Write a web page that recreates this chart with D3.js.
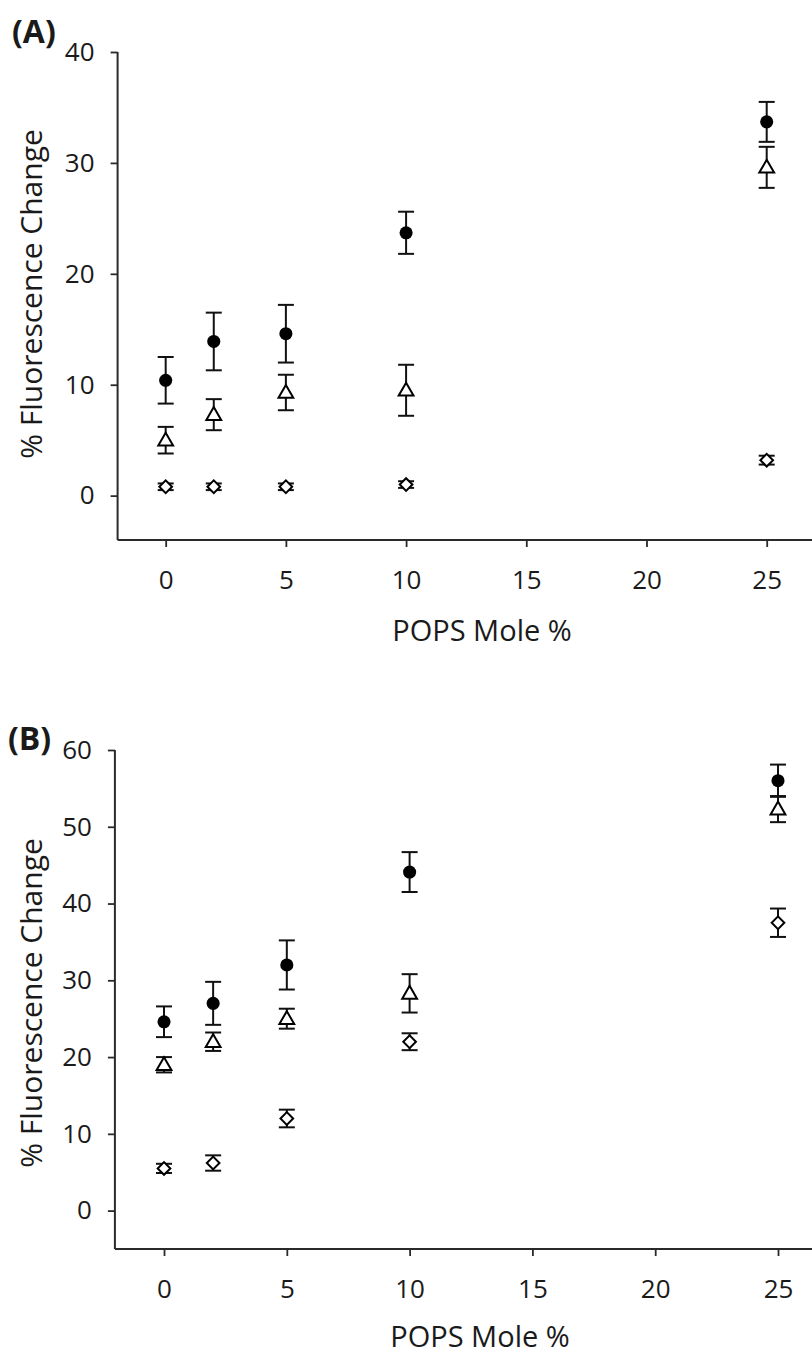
<!DOCTYPE html>
<html>
<head>
<meta charset="utf-8">
<script src="https://cdn.jsdelivr.net/npm/d3@7"></script>
<style>
  html, body { margin: 0; padding: 0; background: #fff; }
  svg { display: block; }
  text { font-family: "Open Sans", "Noto Sans", sans-serif; fill: #1a1a1a; }
</style>
</head>
<body>
<svg id="chart" width="812" height="1359"></svg>
<script>
// ---- Data ----
const xValues = [0, 2, 5, 10, 25];
const xTicks = [0, 5, 10, 15, 20, 25];

// Panel A
const aCircle      = [10.4, 13.9, 14.6, 23.7, 33.7];
const aCircleErr   = [2.1, 2.6, 2.6, 1.9, 1.8];
const aTriangle    = [5.0, 7.3, 9.3, 9.5, 29.6];
const aTriangleErr = [1.2, 1.4, 1.6, 2.3, 1.85];
const aDiamond     = [0.8, 0.8, 0.8, 1.0, 3.2];
const aDiamondErr  = [0.3, 0.3, 0.3, 0.3, 0.4];
const aYTicks = [0, 10, 20, 30, 40];

// Panel B
const bCircle      = [24.6, 27.0, 32.0, 44.1, 56.0];
const bCircleErr   = [2.0, 2.8, 3.2, 2.6, 2.1];
const bTriangle    = [19.0, 22.0, 25.0, 28.3, 52.3];
const bTriangleErr = [1.0, 1.2, 1.3, 2.5, 1.7];
const bDiamond     = [5.5, 6.2, 12.0, 22.0, 37.5];
const bDiamondErr  = [0.6, 1.0, 1.15, 1.1, 1.85];
const bYTicks = [0, 10, 20, 30, 40, 50, 60];

const xTitle = "POPS Mole %";
const yTitle = "% Fluorescence Change";

const svg = d3.select("#chart");

function series(vals, errs, shape) {
  return xValues.map((x, i) => ({ x, y: vals[i], e: errs[i], shape }));
}

function drawPanel(cfg) {
  const g = svg.append("g");
  const x = d3.scaleLinear().domain(cfg.xDomain).range(cfg.xRange);
  const y = d3.scaleLinear().domain(cfg.yDomain).range(cfg.yRange);
  const x0 = cfg.xRange[0], yBottom = cfg.yRange[0];

  const yAxis = g.append("g").attr("transform", `translate(${x0},0)`)
    .call(d3.axisLeft(y).tickValues(cfg.yTicks).tickSize(7).tickSizeOuter(0).tickPadding(16));
  const xAxis = g.append("g").attr("transform", `translate(0,${yBottom})`)
    .call(d3.axisBottom(x).tickValues(xTicks).tickSize(7).tickSizeOuter(0).tickPadding(24));
  [yAxis, xAxis].forEach(ax => {
    ax.select(".domain").attr("stroke", "#2a2a2a").attr("stroke-width", 2);
    ax.selectAll(".tick line").attr("stroke", "#2a2a2a").attr("stroke-width", 1.8);
    ax.selectAll(".tick text").attr("font-size", 26).attr("fill", "#1a1a1a")
      .attr("font-family", '"Open Sans", sans-serif');
  });
  yAxis.select(".domain").attr("d", `M0,${y(cfg.yDomain[1])}V${yBottom}`);
  xAxis.select(".domain").attr("d", `M${x0},0H812`);

  g.append("text")
    .attr("transform", `translate(${cfg.yTitlePos[0]},${cfg.yTitlePos[1]}) rotate(-90)`)
    .attr("text-anchor", "middle").attr("dominant-baseline", "middle")
    .attr("font-size", 30).text(yTitle);
  g.append("text")
    .attr("x", cfg.xTitlePos[0]).attr("y", cfg.xTitlePos[1])
    .attr("text-anchor", "middle").attr("dominant-baseline", "middle")
    .attr("font-size", 29).text(xTitle);
  g.append("text")
    .attr("x", cfg.labelPos[0]).attr("y", cfg.labelPos[1])
    .attr("font-size", 32).attr("font-weight", "bold").text(cfg.label);

  const all = [].concat(
    series(cfg.tri, cfg.triErr, "triangle"),
    series(cfg.dia, cfg.diaErr, "diamond"),
    series(cfg.circ, cfg.circErr, "circle")
  );

  const capW = 8;
  const eb = g.append("g").attr("stroke", "#111").attr("stroke-width", 2).attr("fill", "none");
  all.forEach(d => {
    const cx = x(d.x);
    eb.append("line").attr("x1", cx).attr("x2", cx).attr("y1", y(d.y + d.e)).attr("y2", y(d.y - d.e));
    eb.append("line").attr("x1", cx - capW).attr("x2", cx + capW).attr("y1", y(d.y + d.e)).attr("y2", y(d.y + d.e));
    eb.append("line").attr("x1", cx - capW).attr("x2", cx + capW).attr("y1", y(d.y - d.e)).attr("y2", y(d.y - d.e));
  });

  const sym = { circle: d3.symbolCircle, triangle: d3.symbolTriangle, diamond: d3.symbolSquare };
  const size = { circle: 135, triangle: 95, diamond: 80 };
  g.append("g").selectAll("path").data(all).join("path")
    .attr("d", d => d3.symbol().type(sym[d.shape]).size(size[d.shape])())
    .attr("transform", d => `translate(${x(d.x)},${y(d.y)})` + (d.shape === "diamond" ? " rotate(45)" : "") + (d.shape === "triangle" ? " translate(0,1)" : ""))
    .attr("fill", d => d.shape === "circle" ? "#000" : "#fff")
    .attr("stroke", "#000")
    .attr("stroke-width", d => d.shape === "circle" ? 0 : 2);
}

drawPanel({
  label: "(A)", labelPos: [12, 43],
  xDomain: [-2, 25], xRange: [117.6, 766.7],
  yDomain: [-4, 40], yRange: [540, 52],
  yTicks: aYTicks,
  yTitlePos: [34, 294], xTitlePos: [482, 633],
  circ: aCircle, circErr: aCircleErr,
  tri: aTriangle, triErr: aTriangleErr,
  dia: aDiamond, diaErr: aDiamondErr
});

drawPanel({
  label: "(B)", labelPos: [8, 750],
  xDomain: [-2, 25], xRange: [114.9, 778],
  yDomain: [-5, 60], yRange: [1249, 750],
  yTicks: bYTicks,
  yTitlePos: [34, 1003], xTitlePos: [480, 1339],
  circ: bCircle, circErr: bCircleErr,
  tri: bTriangle, triErr: bTriangleErr,
  dia: bDiamond, diaErr: bDiamondErr
});
</script>
</body>
</html>
